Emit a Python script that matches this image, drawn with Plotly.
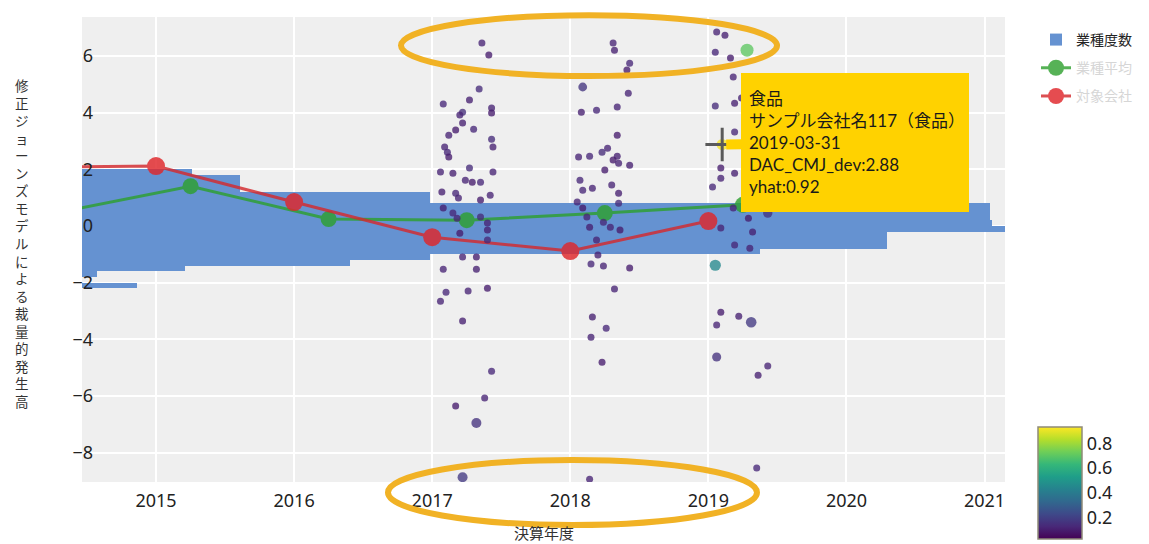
import plotly.graph_objects as go

# ---------------- data ----------------
# industry frequency histogram (horizontal bars): bin centres and counts
bin_centers = [-2.1, -1.9, -1.7, -1.5, -1.3, -1.1, -0.9, -0.7, -0.5, -0.3, -0.1,
               0.1, 0.3, 0.5, 0.7, 0.9, 1.1, 1.3, 1.5, 1.7, 1.9]
bin_counts = [5.5, 0, 1.5, 10.3, 26.8, 34.8, 67.8, 80.5, 80.5, 80.5, 92.3,
              91.0, 90.8, 90.8, 90.8, 34.8, 34.8, 15.8, 15.8, 15.8, 11.0]
bin_width = 0.2
count_axis_max = 92.3

# green series (industry) and red series (company)
green_year = [2014.25, 2015.25, 2016.25, 2017.25, 2018.25, 2019.25]
green_val = [0.44, 1.41, 0.25, 0.21, 0.46, 0.75]
red_year = [2014.0, 2015.0, 2016.0, 2017.0, 2018.0, 2019.0]
red_val = [2.07, 2.12, 0.85, -0.39, -0.88, 0.18]

# individual companies: fiscal year (decimal), DAC_CMJ_dev, yhat, weight
pt_year = [
    2017.36, 2017.41, 2017.34, 2017.27, 2017.08, 2017.43, 2017.43, 2017.22, 2017.20, 2017.22,
    2017.30, 2017.17, 2017.12, 2017.43, 2017.44, 2017.09, 2017.11, 2017.12, 2017.06, 2017.15,
    2017.27, 2017.24, 2017.29, 2017.35, 2017.44, 2017.07, 2017.17, 2017.19, 2017.35, 2017.42,
    2017.08, 2017.15, 2017.18, 2017.20, 2017.35, 2017.40, 2017.40, 2017.40, 2017.22, 2017.32,
    2017.08, 2017.32, 2017.10, 2017.26, 2017.40, 2017.06, 2017.22, 2017.43, 2017.38, 2017.17,
    2017.32, 2017.22,
    2018.31, 2018.32, 2018.43, 2018.41, 2018.09, 2018.42, 2018.08, 2018.19, 2018.34, 2018.34,
    2018.27, 2018.23, 2018.34, 2018.06, 2018.14, 2018.31, 2018.35, 2018.43, 2018.07, 2018.16,
    2018.25, 2018.30, 2018.35, 2018.09, 2018.05, 2018.09, 2018.35, 2018.12, 2018.14, 2018.24,
    2018.29, 2018.36, 2018.19, 2018.20, 2018.15, 2018.24, 2018.43, 2018.32, 2018.16, 2018.26,
    2018.15, 2018.23, 2018.14,
    2019.06, 2019.12, 2019.05, 2019.16, 2019.18, 2019.05, 2019.19, 2019.24, 2019.19, 2019.09,
    2019.09, 2019.19, 2019.03, 2019.18, 2019.29, 2019.09, 2019.32, 2019.19, 2019.30, 2019.09,
    2019.06, 2019.22, 2019.31, 2019.06, 2019.43, 2019.36, 2019.35, 2019.43, 2019.05, 2019.28,
    2019.10,
]
pt_dac = [
    6.46, 6.04, 4.84, 4.45, 4.31, 4.17, 3.99, 4.02, 3.92, 3.64,
    3.42, 3.39, 3.21, 3.07, 2.79, 2.79, 2.61, 2.44, 1.91, 1.87,
    2.05, 1.62, 1.55, 1.55, 1.91, 1.20, 1.16, 0.99, 0.92, 1.09,
    0.64, 0.46, 0.28, -0.25, 0.32, 0.11, -0.14, -0.49, -1.09, -1.09,
    -1.52, -1.52, -2.33, -2.29, -2.19, -2.65, -3.35, -5.12, -6.07, -6.35,
    -6.95, -8.86,
    6.46, 6.21, 5.75, 5.51, 4.91, 4.69, 4.02, 4.09, 4.20, 3.21,
    2.75, 2.61, 2.47, 2.44, 2.47, 2.33, 2.22, 2.15, 1.62, 1.34,
    1.98, 1.45, 1.16, 1.27, 0.85, 0.64, 0.81, 0.32, -0.04, 0.14,
    -0.04, -0.14, -0.49, -1.02, -1.34, -1.41, -1.48, -2.22, -3.21, -3.60,
    -3.92, -4.80, -8.93,
    6.85, 6.74, 6.14, 5.93, 5.26, 4.24, 4.34, 4.52, 3.32, 2.05,
    1.69, 1.87, 1.38, 0.64, 0.28, -0.07, -0.21, -0.67, -0.78, -3.04,
    -3.49, -3.18, -3.39, -4.62, -4.94, -5.26, -8.54, 0.46, -1.38, 6.21,
    2.88,
]
pt_yhat = [
    0.12, 0.10, 0.14, 0.11, 0.13, 0.12, 0.10, 0.15, 0.12, 0.11,
    0.13, 0.10, 0.12, 0.14, 0.11, 0.12, 0.13, 0.10, 0.12, 0.11,
    0.14, 0.12, 0.10, 0.13, 0.12, 0.11, 0.13, 0.12, 0.10, 0.12,
    0.11, 0.13, 0.12, 0.10, 0.14, 0.12, 0.11, 0.13, 0.12, 0.10,
    0.12, 0.11, 0.13, 0.12, 0.10, 0.12, 0.11, 0.13, 0.12, 0.10,
    0.16, 0.18,
    0.12, 0.11, 0.13, 0.10, 0.17, 0.12, 0.11, 0.13, 0.12, 0.10,
    0.12, 0.14, 0.11, 0.12, 0.13, 0.10, 0.12, 0.11, 0.13, 0.12,
    0.10, 0.12, 0.11, 0.13, 0.12, 0.10, 0.14, 0.12, 0.11, 0.13,
    0.12, 0.10, 0.12, 0.11, 0.13, 0.12, 0.10, 0.12, 0.11, 0.13,
    0.12, 0.10, 0.12,
    0.12, 0.11, 0.13, 0.10, 0.12, 0.14, 0.11, 0.12, 0.13, 0.10,
    0.12, 0.11, 0.13, 0.12, 0.10, 0.12, 0.11, 0.13, 0.12, 0.10,
    0.12, 0.11, 0.18, 0.16, 0.12, 0.11, 0.13, 0.17, 0.45, 0.70,
    0.92,
]
pt_weight = [
    1, 1, 1, 1, 1, 1, 1, 1, 1, 1,
    1, 1, 1, 1, 1, 1, 1, 1, 1, 1,
    1, 1, 1, 1, 1, 1, 1, 1, 1, 1,
    1, 1, 1, 1, 1, 1, 1, 1, 1, 1,
    1, 1, 1, 1, 1, 1, 1, 1, 1, 1,
    2, 2,
    1, 1, 1, 1, 1.6, 1, 1, 1, 1, 1,
    1, 1, 1, 1, 1, 1, 1, 1, 1, 1,
    1, 1, 1, 1, 1, 1, 1, 1, 1, 1,
    1, 1, 1, 1, 1, 1, 1, 1, 1, 1,
    1, 1, 1,
    1, 1, 1, 1, 1, 1, 1, 1, 1, 1,
    1, 1, 1, 1, 1, 1, 1, 1, 1, 1,
    1, 1, 2.2, 1.7, 1, 1, 1, 1.8, 2.4, 3,
    2.4,
]
hover_index = len(pt_year) - 1
hover_company = "サンプル会社名117（食品）"
hover_industry = "食品"
hover_date = "2019-03-31"

year_ticks = [2015, 2016, 2017, 2018, 2019, 2020, 2021]
y_ticks = [-8, -6, -4, -2, 0, 2, 4, 6]
cbar_ticks = [0.2, 0.4, 0.6, 0.8]

legend_names = ["業種度数", "業種平均", "対象会社"]
y_title = "修正ジョーンズモデルによる裁量的発生高"
x_title = "決算年度"

# ---------------- figure ----------------
fig = go.Figure()

fig.add_trace(go.Bar(
    x=bin_counts, y=bin_centers, orientation="h", width=bin_width,
    marker=dict(color="rgb(101,146,209)", line=dict(width=0)),
    name=legend_names[0], xaxis="x", yaxis="y", legendgroup="a",
))

fig.add_trace(go.Scatter(
    x=green_year, y=green_val, mode="lines+markers", xaxis="x2", yaxis="y",
    line=dict(color="#2ca02c", width=3), marker=dict(size=16, color="#2ca02c"),
    opacity=0.8, legendgroup="b",
    name="<span style='color:#d6d6d6'>" + legend_names[1] + "</span>",
))
fig.add_trace(go.Scatter(
    x=red_year, y=red_val, mode="lines+markers", xaxis="x2", yaxis="y",
    line=dict(color="#d42a2e", width=3), marker=dict(size=18, color="#e0262a"),
    opacity=0.82, legendgroup="c",
    name="<span style='color:#d6d6d6'>" + legend_names[2] + "</span>",
))

fig.add_trace(go.Scatter(
    x=pt_year, y=pt_dac, mode="markers", xaxis="x2", yaxis="y", showlegend=False,
    marker=dict(
        size=[4 + 3 * w for w in pt_weight], color=pt_yhat, colorscale="Viridis",
        cmin=0.03, cmax=0.93, opacity=0.78, line=dict(width=0),
        colorbar=dict(
            x=1.0358, xanchor="left", xpad=0, y=-0.1226, yanchor="bottom", ypad=0,
            lenmode="pixels", len=112, thickness=44, outlinewidth=1.5,
            outlinecolor="#8f8a78", tickvals=cbar_ticks, ticks="",
            tickfont=dict(family="Noto Sans", size=18, color="#222"),
        ),
    ),
))

# hovered point highlight
fig.add_trace(go.Scatter(
    x=[pt_year[hover_index]], y=[pt_dac[hover_index]], mode="markers",
    xaxis="x2", yaxis="y", showlegend=False,
    marker=dict(symbol="cross-thin", size=24, line=dict(color="#5a5a5a", width=3)),
))

fig.add_annotation(
    x=pt_year[hover_index], y=pt_dac[hover_index], xref="x2", yref="y",
    text="<br>".join([hover_industry, hover_company, hover_date,
                      "DAC_CMJ_dev:%.2f" % pt_dac[hover_index],
                      "yhat:%.2f" % pt_yhat[hover_index]]),
    showarrow=True, arrowhead=0, arrowwidth=10, arrowcolor="#FFD200",
    ax=133, ay=-2, standoff=4, align="left", xanchor="center", yanchor="middle",
    width=212, height=123, borderpad=7, bgcolor="#FFD200", bordercolor="#FFD200",
    font=dict(family="Lato, Noto Sans CJK JP", size=17, color="#1a1a1a"),
)

# vertical y-axis title
fig.add_annotation(
    x=-0.065, y=0.512, xref="paper", yref="paper", showarrow=False,
    text="<br>".join(list(y_title)), xanchor="center", yanchor="middle",
    font=dict(family="DejaVu Sans, Noto Sans CJK JP", size=13.5, color="#333"),
)
fig.add_annotation(
    x=0.5, y=0, xref="paper", yref="paper", showarrow=False, text=x_title,
    yanchor="middle", yshift=-50,
    font=dict(family="Noto Sans CJK JP", size=15, color="#333"),
)

# highlight ellipses
for x0, x1, y0, y1 in [(0.3456, 0.753, 0.873, 1.004), (0.3315, 0.7313, -0.0925, 0.0473)]:
    fig.add_shape(type="circle", xref="paper", yref="paper", x0=x0, x1=x1, y0=y0, y1=y1,
                  line=dict(color="#f1b225", width=6), layer="above")

fig.update_layout(
    width=1149, height=544,
    margin=dict(l=82, r=144, t=17, b=62, autoexpand=False),
    paper_bgcolor="white", plot_bgcolor="#efefef",
    barmode="overlay", bargap=0,
    xaxis=dict(range=[0, count_axis_max], visible=False, showgrid=False, zeroline=False),
    xaxis2=dict(
        overlaying="x", side="bottom", range=[2014.464, 2021.148],
        tickvals=year_ticks, tickformat="d", showgrid=True, gridcolor="white",
        gridwidth=1.5, zeroline=False, ticks="", ticklabelstandoff=6,
        tickfont=dict(family="Noto Sans", size=18, color="#222"), automargin=False,
    ),
    yaxis=dict(
        range=[-9.03, 7.38], tickvals=y_ticks, showgrid=True, gridcolor="white",
        gridwidth=1.5, zeroline=False, ticks="", ticklabelstandoff=-12,
        tickfont=dict(family="Noto Sans", size=18, color="#222"), automargin=False,
    ),
    legend=dict(
        x=1.0336, y=0.985, xanchor="left", yanchor="top", traceorder="grouped",
        tracegroupgap=7, font=dict(family="Noto Sans CJK JP", size=14, color="#222"),
        bgcolor="rgba(0,0,0,0)",
    ),
    showlegend=True,
)

fig.write_html("out.html")
